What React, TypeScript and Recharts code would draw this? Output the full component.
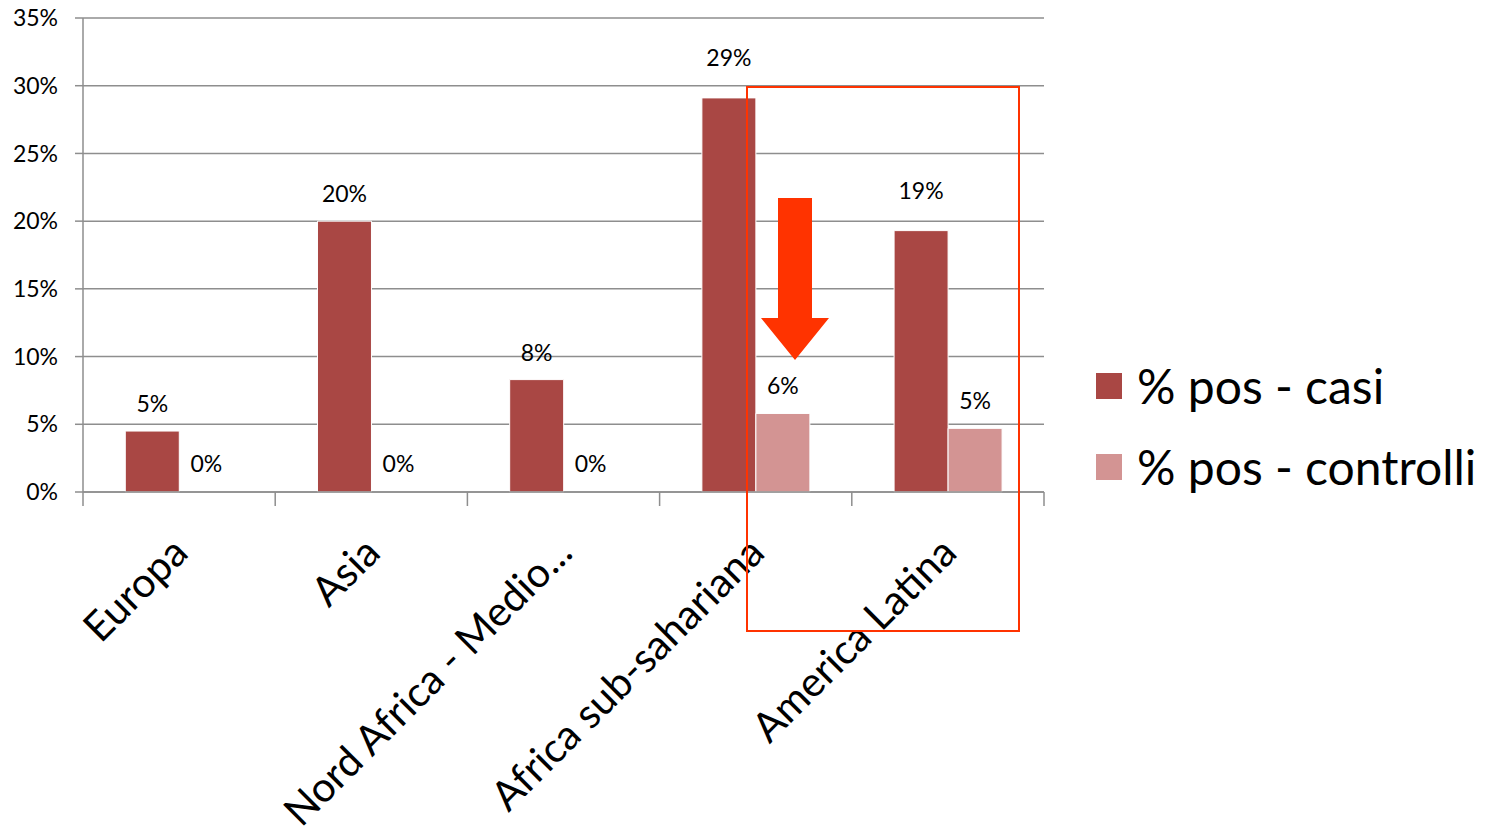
import { BarChart, Bar, XAxis, YAxis, CartesianGrid, LabelList, Cell } from "recharts";

const categories = ["Europa", "Asia", "Nord Africa - Medio...", "Africa sub-sahariana", "America Latina"];
const casi = [4.5, 20, 8.3, 29.1, 19.3];
const controlli = [0, 0, 0, 5.8, 4.7];
const yTicks = [0, 5, 10, 15, 20, 25, 30, 35];
const seriesNames = ["% pos - casi", "% pos - controlli"];

const data = categories.map((name, i) => ({ name, casi: casi[i], controlli: controlli[i] }));

const W = 1497;
const H = 835;
const MARGIN = { top: 18, right: 453, bottom: 13, left: 13 };
const Y_AXIS_W = 70;
const X_AXIS_H = 330;
const PLOT_LEFT = MARGIN.left + Y_AXIS_W;
const PLOT_RIGHT = W - MARGIN.right;
const BAND = (PLOT_RIGHT - PLOT_LEFT) / categories.length;

const COLORS = {
  casi: "#a94744",
  controlli: "#d39493",
  grid: "#8e8e8e",
  mark: "#ff3300",
};
const FONT = "Lato, 'Open Sans', sans-serif";

// the two tallest "casi" labels were dragged up a bit in the original
const LABEL_LIFT: Record<number, number> = { 3: 13, 4: 13 };

function pct(v: number) {
  return `${Math.round(v)}%`;
}

function CategoryTick(props: any) {
  const { x, y, payload, index } = props;
  const left = x - BAND / 2;
  const tx = x + 11;
  const ty = y + 63;
  return (
    <g>
      <line x1={left} y1={y} x2={left} y2={y + 14} stroke={COLORS.grid} strokeWidth={1.5} />
      {index === categories.length - 1 && (
        <line x1={left + BAND} y1={y} x2={left + BAND} y2={y + 14} stroke={COLORS.grid} strokeWidth={1.5} />
      )}
      <text
        x={tx}
        y={ty}
        transform={`rotate(-45, ${tx}, ${ty})`}
        textAnchor="end"
        fontSize={41}
        fill="#000"
      >
        {payload.value}
      </text>
    </g>
  );
}

function makeLabel(lift: boolean) {
  return (props: any) => {
    const { x, y, width, value, index } = props;
    const extra = lift ? LABEL_LIFT[index] || 0 : 0;
    return (
      <text x={x + width / 2} y={y - 19 - extra} textAnchor="middle" fontSize={23} fill="#000">
        {pct(value)}
      </text>
    );
  };
}

function LegendBox() {
  const colors = [COLORS.casi, COLORS.controlli];
  return (
    <div style={{ position: "absolute", left: 1096, top: 345, fontFamily: FONT }}>
      {seriesNames.map((n, i) => (
        <div key={n} style={{ display: "flex", alignItems: "center", height: 81 }}>
          <div style={{ width: 26, height: 26, background: colors[i], marginRight: 15 }} />
          <span style={{ fontSize: 48, color: "#000", whiteSpace: "nowrap" }}>{n}</span>
        </div>
      ))}
    </div>
  );
}

export default function App() {
  return (
    <div style={{ position: "absolute", left: 0, top: 0, width: W, height: H, background: "#fff", fontFamily: FONT }}>
      <BarChart
        width={W}
        height={H}
        data={data}
        margin={MARGIN}
        barCategoryGap="22%"
        barGap={0}
      >
        <CartesianGrid vertical={false} stroke={COLORS.grid} strokeWidth={1.5} />
        <YAxis
          width={Y_AXIS_W}
          domain={[0, 35]}
          ticks={yTicks}
          interval={0}
          tickFormatter={pct}
          tickSize={8}
          tickMargin={17}
          tickLine={{ stroke: COLORS.grid, strokeWidth: 1.5 }}
          axisLine={{ stroke: COLORS.grid, strokeWidth: 1.5 }}
          tick={{ fontSize: 23, fill: "#000" }}
        />
        <Bar dataKey="casi" name={seriesNames[0]} fill={COLORS.casi} stroke="#fff" strokeWidth={1} isAnimationActive={false}>
          <LabelList dataKey="casi" content={makeLabel(true)} />
        </Bar>
        <Bar
          dataKey="controlli"
          name={seriesNames[1]}
          fill={COLORS.controlli}
          minPointSize={1}
          isAnimationActive={false}
        >
          {controlli.map((v, i) => (
            <Cell
              key={i}
              fill={v === 0 ? "transparent" : COLORS.controlli}
              stroke={v === 0 ? "none" : "#fff"}
              strokeWidth={1}
            />
          ))}
          <LabelList dataKey="controlli" content={makeLabel(false)} />
        </Bar>
        <XAxis
          dataKey="name"
          height={X_AXIS_H}
          interval={0}
          tickSize={0}
          tickMargin={0}
          tickLine={false}
          axisLine={{ stroke: COLORS.grid, strokeWidth: 1.5 }}
          tick={<CategoryTick />}
        />
      </BarChart>
      <LegendBox />
      <svg width={W} height={H} style={{ position: "absolute", left: 0, top: 0, pointerEvents: "none" }}>
        <rect x={747} y={87} width={272} height={544} fill="none" stroke={COLORS.mark} strokeWidth={2} />
        <polygon
          points="778,198 812,198 812,318 829,318 795,360 761,318 778,318"
          fill={COLORS.mark}
        />
      </svg>
    </div>
  );
}
